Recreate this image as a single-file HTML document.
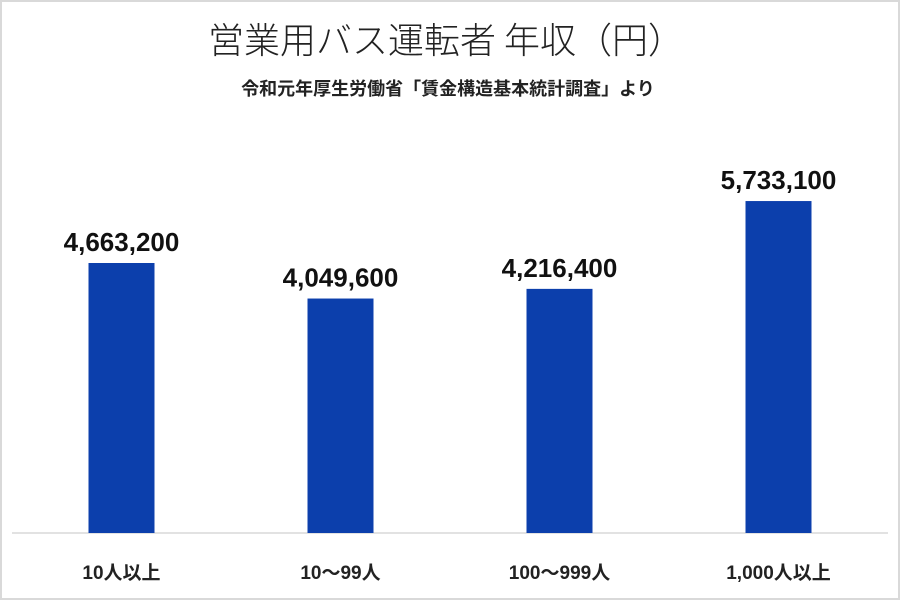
<!DOCTYPE html>
<html><head><meta charset="utf-8"><style>
html,body{margin:0;padding:0;background:#fff}
#wrap{position:relative;width:896px;height:596px;border:2px solid #d9d9d9;overflow:hidden;font-family:"Liberation Sans","Noto Sans CJK JP",sans-serif}
svg text{font-family:"Liberation Sans","Noto Sans CJK JP",sans-serif}
</style></head><body>
<div id="wrap">
<svg id="chart" width="900" height="600" style="position:absolute;left:-2px;top:-2px">
<text x="446" y="53" text-anchor="middle" font-size="36" font-weight="300" fill="#222" style="font-family:'Noto Sans CJK JP',sans-serif">営業用バス運転者 年収（円）</text>
<text x="448" y="95" text-anchor="middle" font-size="18" font-weight="bold" fill="#222">令和元年厚生労働省「賃金構造基本統計調査」より</text>
<line x1="12" y1="533" x2="888" y2="533" stroke="#d9d9d9" stroke-width="1.5"/>
<g id="bars"></g>
</svg>
</div>
<script>
const categories = ["10人以上","10～99人","100～999人","1,000人以上"];
const values = [4663200, 4049600, 4216400, 5733100];
const valueLabels = ["4,663,200","4,049,600","4,216,400","5,733,100"];
const NS="http://www.w3.org/2000/svg";
const plotL=12, plotR=888, baseY=533, yMax=6000000, yTopPx=185.6;
const band=(plotR-plotL)/categories.length;
const xC=i=>plotL+band*(i+0.5);
const y=v=>baseY-(baseY-yTopPx)*v/yMax;
const g=document.getElementById('bars');
const bw=66;
categories.forEach((c,i)=>{
  const r=document.createElementNS(NS,'rect');
  r.setAttribute('x',xC(i)-bw/2);r.setAttribute('y',y(values[i]));
  r.setAttribute('width',bw);r.setAttribute('height',baseY-y(values[i]));
  r.setAttribute('fill','#0c3fac');
  
  
  g.appendChild(r);
  const t=document.createElementNS(NS,'text');
  t.setAttribute('x',xC(i));t.setAttribute('y',y(values[i])-12);
  t.setAttribute('text-anchor','middle');t.setAttribute('font-size','26');
  t.setAttribute('font-weight','bold');t.setAttribute('fill','#111');
  t.textContent=valueLabels[i];
  
  
  g.appendChild(t);
  const l=document.createElementNS(NS,'text');
  l.setAttribute('x',xC(i));l.setAttribute('y',579);
  l.setAttribute('text-anchor','middle');l.setAttribute('font-size','19');
  l.setAttribute('font-weight','bold');l.setAttribute('fill','#222');
  l.textContent=c;
  
  
  g.appendChild(l);
});
</script>
</body></html>
